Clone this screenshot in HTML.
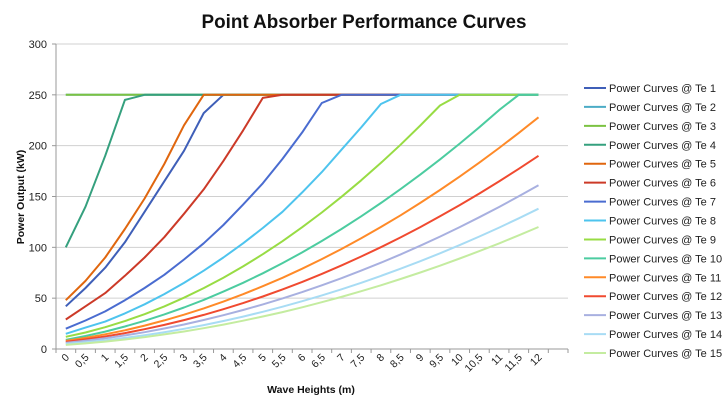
<!DOCTYPE html>
<html><head><meta charset="utf-8"><style>
html,body{margin:0;padding:0;background:#fff;}
svg{display:block;font-family:"Liberation Sans",sans-serif;}
</style></head><body>
<svg id="c" width="726" height="409" viewBox="0 0 726 409" xmlns="http://www.w3.org/2000/svg">
<rect width="726" height="409" fill="#fff"/>
<text x="364" y="28" text-anchor="middle" font-size="19" font-weight="bold" textLength="325" lengthAdjust="spacingAndGlyphs" fill="#111">Point Absorber Performance Curves</text>
<g id="grid"></g>
<g id="series"></g>
<g id="legend"></g>
<text transform="translate(24,197) rotate(-90)" text-anchor="middle" font-size="10.5" font-weight="bold" fill="#111">Power Output  (kW)</text>
<text x="311" y="393" text-anchor="middle" font-size="10.5" font-weight="bold" fill="#111">Wave Heights (m)</text>
</svg>
<script>
var NS="http://www.w3.org/2000/svg";
function el(t,a,p,txt){var e=document.createElementNS(NS,t);for(var k in a)e.setAttribute(k,a[k]);if(txt!==undefined)e.textContent=txt;p.appendChild(e);return e;}
var L=56,R=568,T=44,B=349,cw=(R-L)/26;
function X(h){return L+cw*(h*2+0.5);}
function Y(v){return B-v*(B-T)/300;}
var g=document.getElementById('grid');
for(var v=0;v<=300;v+=50){
  if(v>0)el('line',{x1:L,x2:R,y1:Y(v),y2:Y(v),stroke:'#d0d0d0','stroke-width':1},g);
  el('text',{x:47,y:Y(v)+4,'text-anchor':'end','font-size':11,fill:'#222'},g,String(v));
  el('line',{x1:L-4,x2:L,y1:Y(v),y2:Y(v),stroke:'#999'},g);
}
el('line',{x1:L,x2:L,y1:T,y2:B,stroke:'#999'},g);
el('line',{x1:L,x2:R,y1:B,y2:B,stroke:'#999'},g);
for(var i=0;i<=26;i++){el('line',{x1:L+cw*i,x2:L+cw*i,y1:B,y2:B+4,stroke:'#999'},g);}
for(var i=0;i<25;i++){
  var lab=(i%2==0)?String(i/2):(Math.floor(i/2)+",5");
  var cx=L+cw*(i+0.5)+4;
  el('text',{transform:'translate('+cx+',358) rotate(-45)','text-anchor':'end','font-size':10.5,fill:'#222'},g,lab);
}
function quad(a,b,c){var r=[];for(var i=0;i<25;i++){var h=i/2;r.push(Math.min(250,a+b*h+c*h*h));}return r;}
function pts(arr){var r=arr.slice();while(r.length<25)r.push(250);return r;}
var flat=pts([]);
var S=[
 ['#3f5fb8',pts([42,60,80,105,135,165,195,232,250])],
 ['#4bacc6',flat],
 ['#7cc242',flat],
 ['#35a07e',pts([100,140,190,245,250])],
 ['#e0660e',pts([48,67,90,118,148,182,220,250])],
 ['#cc3a28',pts([29,42,55,72,90,110,133,157,185,215,247,250])],
 ['#4a6cd0',pts([20,28,37,48,60,73,88,104,122,142,163,187,213,242,250])],
 ['#4ec4ee',pts([15,21,27,35,44,54,65,77,90,104,119,135,154,174,196,218,241,250])],
 ['#98dc44',quad(12,7.7,1.71)],
 ['#4ccca0',quad(9,6.9,1.24)],
 ['#ff8a28',quad(8,5.33,1.083)],
 ['#f04a30',quad(7,4.42,0.903)],
 ['#a8b0e0',quad(6,3.75,0.764)],
 ['#a8dcf4',quad(5,2.92,0.68)],
 ['#c4eca0',quad(4,2.67,0.583)]
];
var sg=document.getElementById('series'),lg=document.getElementById('legend');
for(var s=0;s<S.length;s++){
  var d=S[s][1].map(function(v,i){return X(i/2).toFixed(1)+','+Y(v).toFixed(1);}).join(' ');
  el('polyline',{points:d,fill:'none',stroke:S[s][0],'stroke-width':2,'stroke-linejoin':'round'},sg);
}
for(var s=0;s<S.length;s++){
  var y=88+s*18.93;
  el('line',{x1:584,x2:606,y1:y,y2:y,stroke:S[s][0],'stroke-width':2},lg);
  el('text',{x:609,y:y+4,'font-size':11,fill:'#222'},lg,'Power Curves @ Te '+(s+1));
}
</script>
</body></html>
